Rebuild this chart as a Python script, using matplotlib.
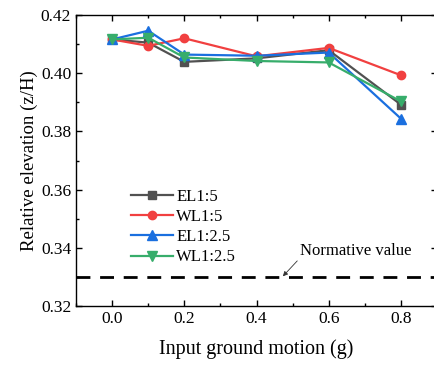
import numpy as np
import matplotlib
matplotlib.use('Agg')
import matplotlib.pyplot as plt
from matplotlib.ticker import MultipleLocator

plt.rcParams['font.family'] = ['Liberation Serif', 'DejaVu Serif']
plt.rcParams['mathtext.fontset'] = 'stix'

pga = [0.0, 0.1, 0.2, 0.4, 0.6, 0.8]
el_5 = [0.4116, 0.4105, 0.4039, 0.4051, 0.4079, 0.3892]
wl_5 = [0.4116, 0.4094, 0.4120, 0.4058, 0.4087, 0.3993]
el_25 = [0.4116, 0.4146, 0.4064, 0.4060, 0.4071, 0.3844]
wl_25 = [0.4116, 0.4122, 0.4054, 0.4042, 0.4037, 0.3903]
normative = 0.33

fig = plt.figure(figsize=(4.34, 3.67), dpi=100)
ax = fig.add_axes([76/434, 61/367, 361/434, 291/367])

ax.plot(pga, el_5, color='#515151', marker='s', ms=6, lw=1.6, label='EL1:5')
ax.plot(pga, wl_5, color='#F14040', marker='o', ms=6, lw=1.6, label='WL1:5')
ax.plot(pga, el_25, color='#1A6FDF', marker='^', ms=7, lw=1.6, label='EL1:2.5')
ax.plot(pga, wl_25, color='#37AD6B', marker='v', ms=7, lw=1.6, label='WL1:2.5')
ax.axhline(normative, color='black', ls=(0, (5, 3.5)), lw=2)

ax.annotate('Normative value', xy=(0.473, 0.3302), xytext=(0.675, 0.339),
            ha='center', va='center', fontsize=12,
            arrowprops=dict(arrowstyle='-|>', color='#333333', lw=0.6,
                            mutation_scale=7, shrinkA=0, shrinkB=0,
                            relpos=(0.0, 0.05)))

ax.set_xlim(-0.1, 0.9)
ax.set_ylim(0.32, 0.42)
ax.xaxis.set_major_locator(MultipleLocator(0.2))
ax.xaxis.set_minor_locator(MultipleLocator(0.1))
ax.yaxis.set_major_locator(MultipleLocator(0.02))
ax.yaxis.set_minor_locator(MultipleLocator(0.01))
ax.xaxis.set_major_formatter(plt.FormatStrFormatter('%.1f'))
ax.yaxis.set_major_formatter(plt.FormatStrFormatter('%.2f'))
ax.tick_params(which='both', direction='in', top=True, right=True, labelsize=12.5)
ax.tick_params(which='major', length=4.5, width=1)
ax.tick_params(which='minor', length=2.5, width=1)
for s in ax.spines.values():
    s.set_linewidth(1)

ax.set_xlabel('Input ground motion (g)', fontsize=14.5, labelpad=9)
ax.set_ylabel('Relative elevation (z/H)', fontsize=13.5, labelpad=2)

ax.legend(loc='upper left', bbox_to_anchor=(0.134, 0.425), frameon=False,
          fontsize=12, handlelength=2.5, handletextpad=0.2, labelspacing=0.25,
          borderaxespad=0)

fig.savefig('out.png', dpi=100)
